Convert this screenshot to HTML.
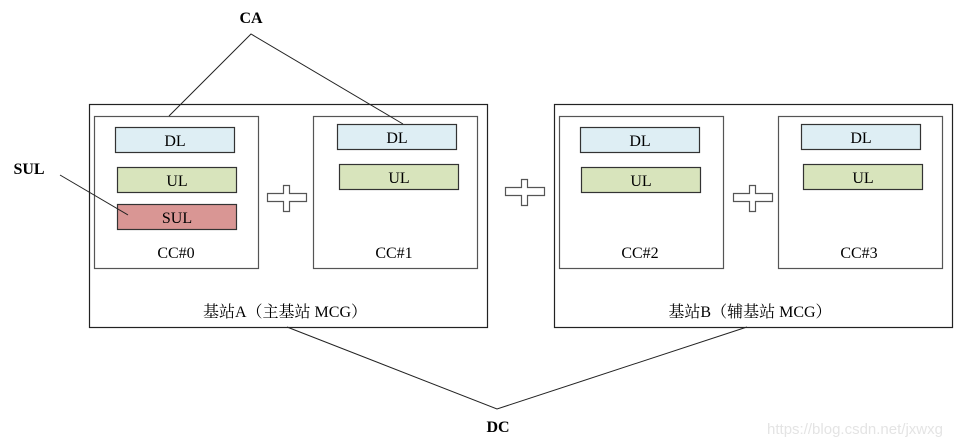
<!DOCTYPE html>
<html><head><meta charset="utf-8"><style>
html,body{margin:0;padding:0;background:#fff;}
svg{display:block;}
text{font-family:"Liberation Serif","Noto Serif CJK SC",serif;fill:#000;}
</style></head><body>
<svg width="956" height="446" viewBox="0 0 956 446" xmlns="http://www.w3.org/2000/svg">
<g fill="none" stroke="#222" stroke-width="1.2">
<rect x="89.5" y="104.5" width="398" height="223"/>
<rect x="554.5" y="104.5" width="398" height="223"/>
</g>
<g fill="none" stroke="#555" stroke-width="1.2">
<rect x="94.5" y="116.5" width="164" height="152"/>
<rect x="313.5" y="116.5" width="164" height="152"/>
<rect x="559.5" y="116.5" width="164" height="152"/>
<rect x="778.5" y="116.5" width="164" height="152"/>
</g>
<g stroke="#333" stroke-width="1.2">
<rect x="115.5" y="127.5" width="119" height="25" fill="#DEEEF4"/>
<rect x="117.5" y="167.5" width="119" height="25" fill="#D8E4BC"/>
<rect x="117.5" y="204.5" width="119" height="25" fill="#D99694"/>
<rect x="337.5" y="124.5" width="119" height="25" fill="#DEEEF4"/>
<rect x="339.5" y="164.5" width="119" height="25" fill="#D8E4BC"/>
<rect x="580.5" y="127.5" width="119" height="25" fill="#DEEEF4"/>
<rect x="581.5" y="167.5" width="119" height="25" fill="#D8E4BC"/>
<rect x="801.5" y="124.5" width="119" height="25" fill="#DEEEF4"/>
<rect x="803.5" y="164.5" width="119" height="25" fill="#D8E4BC"/>
</g>
<g fill="#fff" stroke="#555" stroke-width="1.2">
<path d="M283.5 185.5h6v8h17v8h-17v10h-6v-10h-16v-8h16z"/>
<path d="M521.5 179.5h6v8h17v8h-17v10h-6v-10h-16v-8h16z"/>
<path d="M749.5 185.5h6v8h17v8h-17v10h-6v-10h-16v-8h16z"/>
</g>
<g stroke="#222" stroke-width="1" fill="none">
<polyline points="169,116 251,34 403,124"/>
<line x1="60" y1="175" x2="128" y2="215"/>
<polyline points="287,327 497,409 747,327"/>
</g>
<g font-size="16" text-anchor="middle">
<text x="175" y="146">DL</text>
<text x="177" y="186">UL</text>
<text x="177" y="223">SUL</text>
<text x="397" y="143">DL</text>
<text x="399" y="183">UL</text>
<text x="640" y="146">DL</text>
<text x="641" y="186">UL</text>
<text x="861" y="143">DL</text>
<text x="863" y="183">UL</text>
<text x="176" y="258">CC#0</text>
<text x="394" y="258">CC#1</text>
<text x="640" y="258">CC#2</text>
<text x="859" y="258">CC#3</text>
<text x="285" y="317">基站A（主基站 MCG）</text>
<text x="750" y="317">基站B（辅基站 MCG）</text>
</g>
<g font-size="16" font-weight="bold" text-anchor="middle">
<text x="251" y="23">CA</text>
<text x="29" y="174">SUL</text>
<text x="498" y="432">DC</text>
</g>
<text x="855" y="434" font-size="15" text-anchor="middle" style="font-family:'Liberation Sans',sans-serif;fill:#e4e4e4">https://blog.csdn.net/jxwxg</text>
</svg>
</body></html>
